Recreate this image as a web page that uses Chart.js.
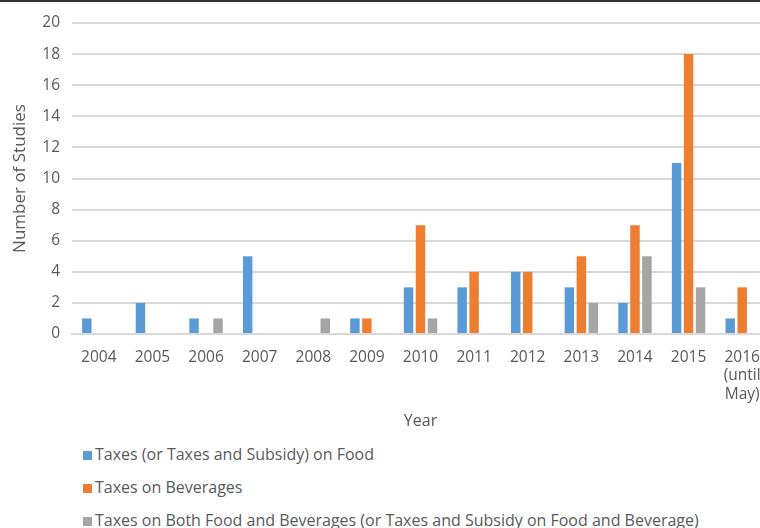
<!DOCTYPE html>
<html>
<head>
<meta charset="utf-8">
<script src="https://cdn.jsdelivr.net/npm/chart.js@4"></script>
<style>
  body { margin: 0; width: 760px; height: 528px; overflow: hidden; background: #fff; position: relative; font-family: "Open Sans", sans-serif; }
  #topline { position: absolute; left: 0; top: 0; width: 760px; height: 2px; background: #333; }
  #chart { position: absolute; left: 0; top: 0; }
  #legend { position: absolute; left: 83px; top: 442px; margin: 0; padding: 0; list-style: none; }
  #legend li { height: 33px; line-height: 24px; font-size: 16px; color: #595959; white-space: nowrap; }
  #legend span { display: inline-block; width: 9px; height: 9px; margin-right: 3px; }
</style>
</head>
<body>
<canvas id="chart" width="769" height="432"></canvas>
<div id="topline"></div>
<ul id="legend"></ul>
<script>
const years = ["2004", "2005", "2006", "2007", "2008", "2009", "2010", "2011", "2012", "2013", "2014", "2015", ["2016", "(until", "May)"]];
const food = [1, 2, 1, 5, 0, 1, 3, 3, 4, 3, 2, 11, 1];
const beverages = [0, 0, 0, 0, 0, 1, 7, 4, 4, 5, 7, 18, 3];
const both = [0, 0, 1, 0, 1, 0, 1, 0, 0, 2, 5, 3, 0];
const yTicks = [0, 2, 4, 6, 8, 10, 12, 14, 16, 18, 20];

const textColor = "#595959";
const gridColor = "#d9d9d9";

Chart.defaults.font.family = "'Open Sans', sans-serif";
Chart.defaults.color = textColor;

const ctx = document.getElementById("chart").getContext("2d");

const chart = new Chart(ctx, {
    type: "bar",
    data: {
        labels: years,
        datasets: [
            { label: "Taxes (or Taxes and Subsidy) on Food", data: food, backgroundColor: "#5B9BD5" },
            { label: "Taxes on Beverages", data: beverages, backgroundColor: "#ED7D31" },
            { label: "Taxes on Both Food and Beverages (or Taxes and Subsidy on Food and Beverage)", data: both, backgroundColor: "#A5A5A5" }
        ]
    },
    options: {
        responsive: false,
        animation: false,
        layout: { padding: { top: 23, right: 0, bottom: 0, left: 0 } },
        datasets: {
            bar: { categoryPercentage: 0.67, barPercentage: 0.79 }
        },
        plugins: {
            legend: { display: false },
            tooltip: { enabled: false }
        },
        scales: {
            x: {
                grid: { display: false },
                border: { color: gridColor, width: 2 },
                ticks: { font: { size: 15.5 }, color: textColor, padding: 6, maxRotation: 0, autoSkip: false },
                title: { display: true, text: "Year", font: { size: 16 }, color: textColor, padding: { top: 4, bottom: 1 } },
                afterFit: (scale) => { scale.height = 98; }
            },
            y: {
                min: 0,
                max: 20,
                afterBuildTicks: (scale) => { scale.ticks = yTicks.map(v => ({ value: v })); },
                grid: { color: gridColor, lineWidth: 2, drawTicks: false },
                border: { display: false },
                ticks: { font: { size: 15.5 }, color: textColor, padding: 12 },
                title: { display: true, text: "Number of Studies", font: { size: 17 }, color: textColor, padding: { top: 10, bottom: 4 } },
                afterFit: (scale) => { scale.width = 72; }
            }
        }
    }
});

// vertical legend under the chart, like the original
const legendEl = document.getElementById("legend");
chart.data.datasets.forEach((ds) => {
    const li = document.createElement("li");
    const box = document.createElement("span");
    box.style.background = ds.backgroundColor;
    li.append(box, ds.label);
    legendEl.append(li);
});
</script>
</body>
</html>
